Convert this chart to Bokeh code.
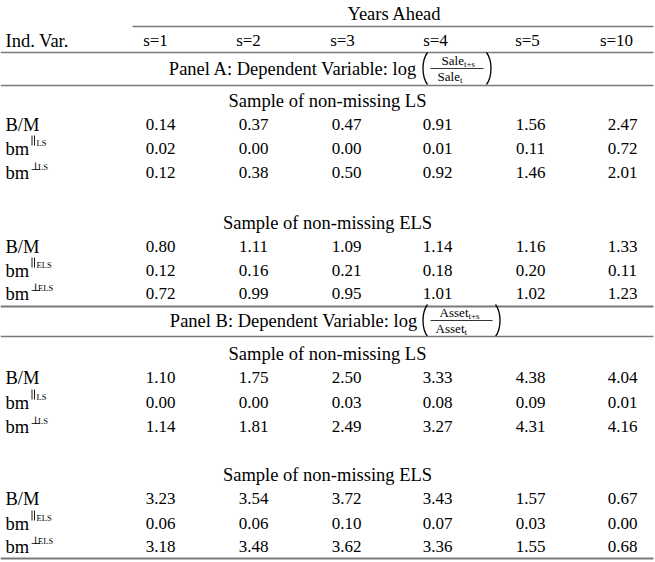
from bokeh.plotting import figure
from bokeh.models import Range1d
from bokeh.core.properties import value
from bokeh.embed import file_html
from bokeh.resources import INLINE

# ---------------- data ----------------
header_label = "Ind. Var."
span_label = "Years Ahead"
years = ["s=1", "s=2", "s=3", "s=4", "s=5", "s=10"]

panelA_title = "Panel A: Dependent Variable: log"
panelA_var = "Sale"
panelB_title = "Panel B: Dependent Variable: log"
panelB_var = "Asset"

sample_LS = "Sample of non-missing LS"
sample_ELS = "Sample of non-missing ELS"

A_LS_bm = [0.14, 0.37, 0.47, 0.91, 1.56, 2.47]
A_LS_par = [0.02, 0.00, 0.00, 0.01, 0.11, 0.72]
A_LS_perp = [0.12, 0.38, 0.50, 0.92, 1.46, 2.01]

A_ELS_bm = [0.80, 1.11, 1.09, 1.14, 1.16, 1.33]
A_ELS_par = [0.12, 0.16, 0.21, 0.18, 0.20, 0.11]
A_ELS_perp = [0.72, 0.99, 0.95, 1.01, 1.02, 1.23]

B_LS_bm = [1.10, 1.75, 2.50, 3.33, 4.38, 4.04]
B_LS_par = [0.00, 0.00, 0.03, 0.08, 0.09, 0.01]
B_LS_perp = [1.14, 1.81, 2.49, 3.27, 4.31, 4.16]

B_ELS_bm = [3.23, 3.54, 3.72, 3.43, 1.57, 0.67]
B_ELS_par = [0.06, 0.06, 0.10, 0.07, 0.03, 0.00]
B_ELS_perp = [3.18, 3.48, 3.62, 3.36, 1.55, 0.68]

# ---------------- layout (pixel coordinates) ----------------
FONT = "Liberation Serif"
SYM_FONT = "DejaVu Serif"
SZ_WORD = 18.5
SZ_NUM = 17
RULE_COLOR = "#7a7a7a"
W, H = 655, 562
X_LEFT, X_RIGHT = 0, 653
LABEL_X = 5
VAL_X = [160, 253, 346, 437, 530, 622]
HEAD_X = [155, 248, 342, 435, 527, 616]
CENTER_X = 327

p = figure(width=W, height=H, x_range=Range1d(0, W), y_range=Range1d(H, 0),
           output_backend="svg", toolbar_location=None, x_axis_type=None, y_axis_type=None,
           min_border=0)
p.outline_line_color = None
p.background_fill_color = "white"
p.border_fill_color = "white"

groups = {}


def T(x, y, s, size=SZ_WORD, align="left", font=FONT):
    g = groups.setdefault((size, align, font), {"x": [], "y": [], "text": []})
    g["x"].append(x)
    g["y"].append(y)
    g["text"].append(s)


def rule(y, x0=X_LEFT, x1=X_RIGHT, w=1.7):
    p.segment(x0=[x0], y0=[y], x1=[x1], y1=[y], line_color=RULE_COLOR, line_width=w)


def row_label(y, kind, sample):
    if kind == "bm":
        T(LABEL_X, y, "B/M")
    else:
        T(LABEL_X, y, "bm")
        if kind == "par":
            p.segment(x0=[31.5, 34], y0=[y - 13, y - 13], x1=[31.5, 34], y1=[y - 3, y - 3],
                      line_color="black", line_width=0.9)
            T(36, y - 6, sample, size=8.5)
        else:
            T(30, y - 6, "\u22a5", size=11, font=SYM_FONT)
            T(37.5, y - 6, sample, size=8.5)


def fraction(title, var, y, xr):
    T(417, y, title, align="right")
    xl = 427
    for x0, d in ((xl, -6), (xr, 6)):
        p.bezier(x0=[x0], y0=[y - 16], x1=[x0], y1=[y + 16],
                 cx0=[x0 + d], cy0=[y - 8], cx1=[x0 + d], cy1=[y + 8],
                 line_color="black", line_width=1.3)
    mid = (xl + xr) / 2
    p.segment(x0=[xl + 3], y0=[y], x1=[xr - 3], y1=[y], line_color="black", line_width=0.8)
    T(mid + 7, y - 8, var, size=13, align="right")
    T(mid + 7, y - 5, "t+s", size=9)
    T(mid + 3, y + 8, var, size=13, align="right")
    T(mid + 3, y + 11, "t", size=9)


# header
T(394, 13, span_label, align="center")
rule(26, x0=132, w=1.3)
T(LABEL_X, 40, header_label)
for x, s in zip(HEAD_X, years):
    T(x, 40, s, align="center", size=SZ_NUM)
rule(52)

blocks = [
    (panelA_title, panelA_var, 68, 486, 85,
     [(sample_LS, "LS", 100, [124, 148, 172], [A_LS_bm, A_LS_par, A_LS_perp]),
      (sample_ELS, "ELS", 222, [246, 270, 293], [A_ELS_bm, A_ELS_par, A_ELS_perp])], 306),
    (panelB_title, panelB_var, 320, 495, 336,
     [(sample_LS, "LS", 353, [377, 402, 426], [B_LS_bm, B_LS_par, B_LS_perp]),
      (sample_ELS, "ELS", 474, [498, 523, 546], [B_ELS_bm, B_ELS_par, B_ELS_perp])], 558),
]

for title, var, ty, xr, ry, samples, end_rule in blocks:
    fraction(title, var, ty, xr)
    rule(ry)
    for stitle, sname, sy, rows_y, series in samples:
        T(CENTER_X, sy, stitle, align="center")
        for kind, yy, vals in zip(["bm", "par", "perp"], rows_y, series):
            row_label(yy, kind, sname)
            for x, v in zip(VAL_X, vals):
                T(x, yy, f"{v:.2f}", align="center", size=SZ_NUM)
    rule(end_rule, w=1.8)

for (size, align, font), g in groups.items():
    p.text(x=g["x"], y=g["y"], text=g["text"], text_font=value(font),
           text_font_size=value(f"{size}px"), text_align=align, text_baseline="middle",
           text_color="black")

open("out.html", "w").write(file_html(p, INLINE))
